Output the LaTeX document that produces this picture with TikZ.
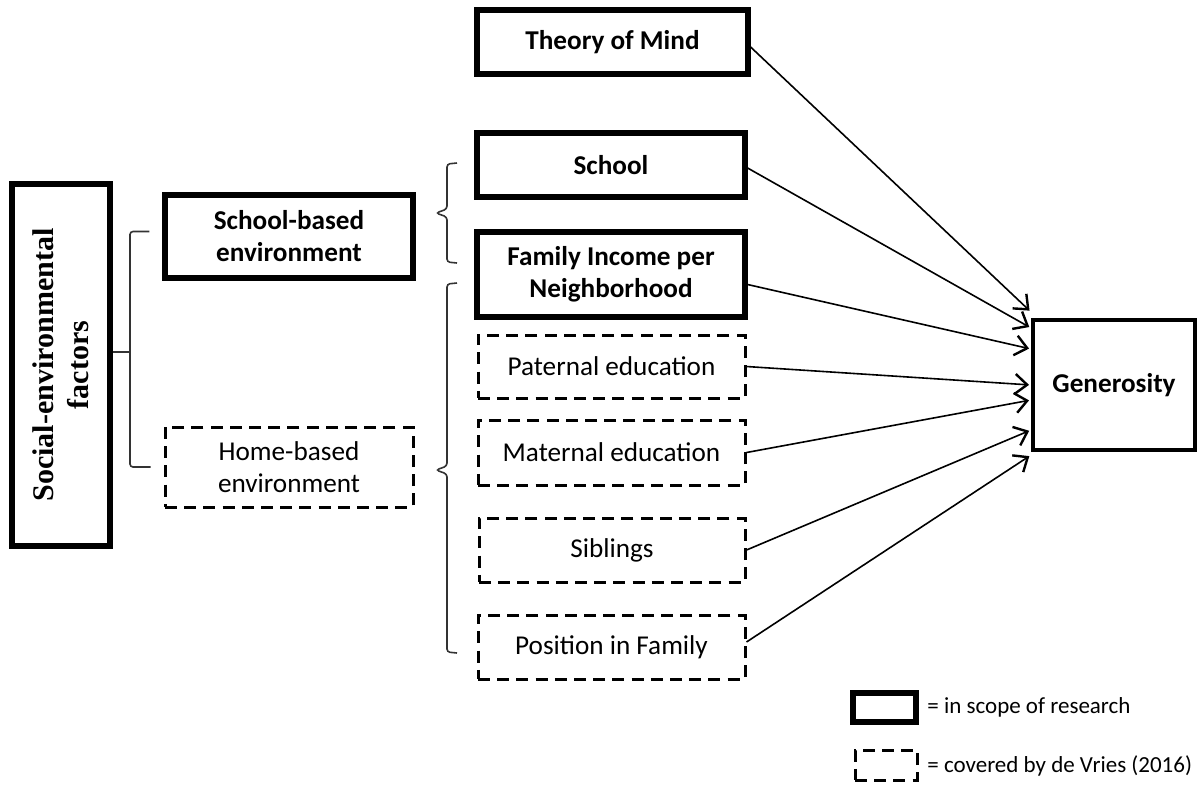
\documentclass[tikz,border=0pt]{standalone}
\usepackage{fontspec}
\setmainfont{Carlito}
\newfontfamily\labelserif{Liberation Serif}
\usepackage{tikz}
\usetikzlibrary{arrows.meta}

\tikzset{
  scopebox/.style={draw, line width=2.6pt, align=center, inner sep=2pt,
    font=\fontsize{13.6}{16}\selectfont\bfseries},
  priorbox/.style={draw, line width=1.5pt, dash pattern=on 6pt off 3.6pt,
    align=center, inner sep=2pt, font=\fontsize{13.6}{16}\selectfont},
  link/.style={line width=0.8pt, -{Straight Barb[length=6pt,width=10pt,line width=1.2pt]}, shorten >=1pt},
  bracket/.style={line width=0.8pt, draw=black!80, rounded corners=1.5pt},
  legendtext/.style={anchor=west, inner sep=0pt, font=\fontsize{11.5}{13}\selectfont}
}

\begin{document}
\begin{tikzpicture}[x=0.5pt,y=0.5pt,yscale=-1,xscale=1]
        \useasboundingbox (0,0) rectangle (1203,789);

        %Shape: Rectangle [social factors]
        \node[draw, line width=2.6pt, minimum width=49pt, minimum height=181pt] (soc) at (61,365) {};
        % Text Node
        \node[rotate=90, align=center, font=\fontsize{15}{17.5}\selectfont\labelserif\bfseries] (soclabel) at (soc.center) {Social-environmental\\factors};

        %Shape: Rectangle [school / home]
        \node[scopebox, minimum width=124pt, minimum height=41.5pt] (sbe) at (289,236.5) {School-based\\environment};
        \node[priorbox, minimum width=124pt, minimum height=40pt] (hbe) at (289,467) {Home-based\\environment};

        %Shape: Bracket
        \coordinate (fork) at (130,352);
        \draw[bracket] ([xshift=-6.5pt,yshift=-2.5pt]sbe.west) -| (fork) |- ([xshift=-6.5pt]hbe.west);
        \draw[bracket] (soc.east |- fork) -- (fork);

        %Shape: Rectangle [factors]
        \node[scopebox, minimum width=135.5pt, minimum height=32pt] (tom) at (612.5,42) {Theory of Mind};
        \node[scopebox, minimum width=134pt, minimum height=32pt] (sch) at (611,165) {School};
        \node[scopebox, minimum width=134pt, minimum height=42.5pt] (inc) at (611,274.5) {Family Income per\\Neighborhood};
        \node[priorbox, minimum width=133.5pt, minimum height=31.5pt] (pat) at (611.5,366.5) {Paternal education};
        \node[priorbox, minimum width=133.5pt, minimum height=32.5pt] (mat) at (611.5,452.5) {Maternal education};
        \node[priorbox, minimum width=133pt, minimum height=32pt] (sib) at (612,550) {Siblings};
        \node[priorbox, minimum width=133.5pt, minimum height=32pt] (pos) at (611.5,647) {Position in Family};

        %Shape: Braces
        \draw[bracket] (457,163) -- (447,164) -- (447,209) -- (436,213) -- (447,217) -- (447,262) -- (457,263);
        \draw[bracket] (457,283) -- (447,284) -- (447,466) -- (436,470) -- (447,474) -- (447,652) -- (457,653);

        %Shape: Rectangle [outcome]
        \node[draw, line width=2pt, minimum width=81pt, minimum height=65pt,
          font=\fontsize{13.6}{16}\selectfont\bfseries] (gen) at (1114,385) {Generosity};

        %Straight Lines [arrows]
        \draw[link] ([yshift=2.5pt]tom.east) -- ([yshift=-36.5pt]gen.west);
        \draw[link] ([yshift=1.5pt]sch.east) -- ([yshift=-28.5pt]gen.west);
        \draw[link] ([yshift=5pt]inc.east) -- ([yshift=-18pt]gen.west);
        \draw[link] (pat.east) -- (gen.west);
        \draw[link] (mat.east) -- ([yshift=7.5pt]gen.west);
        \draw[link] (sib.east) -- ([yshift=22.5pt]gen.west);
        \draw[link] ([yshift=-2.5pt]pos.east) -- ([yshift=35pt]gen.west);

        %Legend
        \node[draw, line width=3pt, minimum width=31.5pt, minimum height=14.5pt] (keyscope) at (884.5,707.5) {};
        \node[draw, line width=1.5pt, dash pattern=on 6pt off 3.6pt, minimum width=31pt, minimum height=15pt] (keyprior) at (886,765) {};
        % Text Node
        \node[legendtext] (keyscopetext) at (927,707) {= in scope of research};
        % Text Node
        \node[legendtext] (keypriortext) at (927,766) {= covered by de Vries (2016)};
\end{tikzpicture}
\end{document}
